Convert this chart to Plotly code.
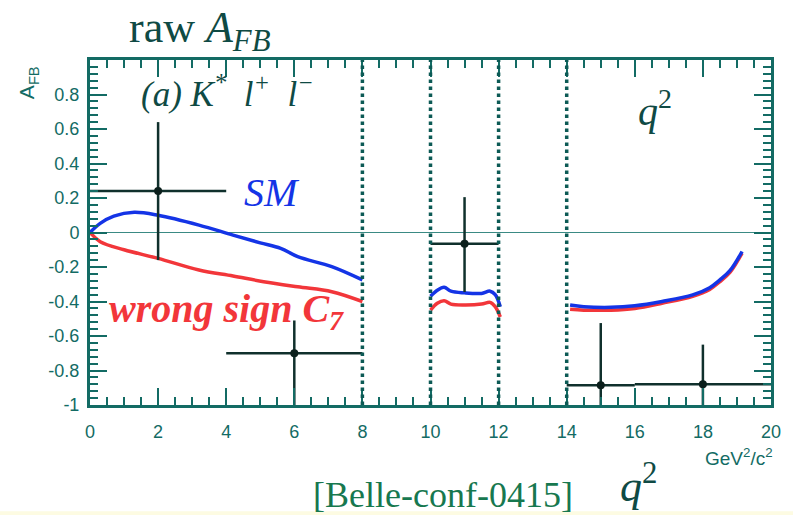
import plotly.graph_objects as go

# Theory curves: forward-backward asymmetry vs q^2 (three allowed q^2 windows)
sm_q2_a = [0.0, 0.3, 0.7, 1.3, 2.0, 3.2, 4.2, 5.0, 5.6, 6.1, 7.1, 8.0]
sm_afb_a = [0.0, 0.053, 0.095, 0.117, 0.10, 0.043, -0.015, -0.06, -0.092, -0.14, -0.198, -0.275]
sm_q2_b = [10.0, 10.2, 10.4, 10.6, 11.0, 11.5, 11.75, 11.9, 12.05]
sm_afb_b = [-0.37, -0.335, -0.318, -0.34, -0.35, -0.353, -0.34, -0.36, -0.43]
sm_q2_c = [14.1, 14.5, 15.3, 16.0, 16.8, 17.7, 18.2, 18.5, 18.8, 19.15]
sm_afb_c = [-0.42, -0.43, -0.434, -0.425, -0.40, -0.362, -0.32, -0.275, -0.22, -0.11]

ws_q2_a = [0.0, 0.3, 1.0, 2.0, 3.2, 4.2, 5.1, 6.1, 7.1, 8.0]
ws_afb_a = [0.0, -0.053, -0.10, -0.15, -0.217, -0.252, -0.285, -0.315, -0.343, -0.40]
ws_q2_b = [10.0, 10.2, 10.4, 10.6, 11.0, 11.5, 11.75, 11.9, 12.05]
ws_afb_b = [-0.45, -0.41, -0.395, -0.415, -0.42, -0.415, -0.405, -0.43, -0.49]
ws_q2_c = [14.1, 14.5, 15.3, 16.0, 16.8, 17.7, 18.2, 18.5, 18.8, 19.15]
ws_afb_c = [-0.445, -0.45, -0.45, -0.44, -0.41, -0.37, -0.33, -0.285, -0.23, -0.12]

# Measured raw A_FB per q^2 bin
bin_center = [2.0, 6.0, 11.0, 15.0, 18.0]
bin_halfwidth = [2.0, 2.0, 1.0, 1.0, 2.0]
afb_raw = [0.24, -0.70, -0.065, -0.885, -0.88]
afb_err_up = [0.40, 0.19, 0.27, 0.36, 0.23]
afb_err_down = [0.40, 0.40, 0.28, 0.40, 0.40]

# Vetoed charmonium windows
veto_edges = [8, 10, 12, 14]

x_ticks = [0, 2, 4, 6, 8, 10, 12, 14, 16, 18, 20]
y_ticks = [-1, -0.8, -0.6, -0.4, -0.2, 0, 0.2, 0.4, 0.6, 0.8]
y_ticktext = ["-1", "-0.8", "-0.6", "-0.4", "-0.2", "0", "0.2", "0.4", "0.6", "0.8"]

AXIS = "#136b64"
TEXT = "#0f4a44"
BLUE = "#1434e6"
RED = "#f2363a"
SERIF = "Liberation Serif, Times New Roman, serif"
SANS = "Liberation Sans, Arial, sans-serif"

fig = go.Figure()

for xs, ys in [(ws_q2_a, ws_afb_a), (ws_q2_b, ws_afb_b), (ws_q2_c, ws_afb_c)]:
    fig.add_trace(go.Scatter(x=xs, y=ys, mode="lines", line=dict(color=RED, width=3.5, shape="spline"),
                             showlegend=False, hoverinfo="skip"))
for xs, ys in [(sm_q2_a, sm_afb_a), (sm_q2_b, sm_afb_b), (sm_q2_c, sm_afb_c)]:
    fig.add_trace(go.Scatter(x=xs, y=ys, mode="lines", line=dict(color=BLUE, width=3.5, shape="spline"),
                             showlegend=False, hoverinfo="skip"))

fig.add_trace(go.Scatter(
    x=bin_center, y=afb_raw, mode="markers",
    marker=dict(color="#0b1f1c", size=8),
    error_x=dict(type="data", array=bin_halfwidth, color="#10302c", thickness=2.5, width=0),
    error_y=dict(type="data", array=afb_err_up, arrayminus=afb_err_down,
                 color="#10302c", thickness=2.5, width=0),
    showlegend=False,
))

for xv in veto_edges:
    fig.add_shape(type="line", x0=xv, x1=xv, y0=-1, y1=1, xref="x", yref="y",
                  line=dict(color="#0c5a55", width=3.5, dash="dot"), layer="above")

# pale strip along the bottom edge
fig.add_shape(type="rect", xref="paper", yref="paper", x0=-0.2, x1=1.1, y0=-0.34, y1=-0.308,
              fillcolor="#fdfbe2", line=dict(width=0), layer="below")

ann = [
    dict(text="raw <i>A</i><sub><i>FB</i></sub>", x=0.055, y=1.085, xref="paper", yref="paper",
         xanchor="left", yanchor="middle", font=dict(family=SERIF, size=44, color=TEXT)),
    dict(text="<i>(a) K<sup>*</sup>  l<sup>+</sup>  l<sup>−</sup></i>", x=1.45, y=0.82, xanchor="left",
         yanchor="middle", font=dict(family=SERIF, size=35, color=TEXT)),
    dict(text="<i>q</i><sup>2</sup>", x=16.6, y=0.72, xanchor="center", yanchor="middle",
         font=dict(family=SERIF, size=40, color=TEXT)),
    dict(text="<i>SM</i>", x=5.35, y=0.23, xanchor="center", yanchor="middle",
         font=dict(family=SERIF, size=40, color=BLUE)),
    dict(text="<b><i>wrong sign C<sub>7</sub></i></b>", x=0.5, y=-0.455, xanchor="left", yanchor="middle",
         font=dict(family=SERIF, size=40, color=RED)),
    dict(text="[Belle-conf-0415]", x=0.519, y=-0.262, xref="paper", yref="paper",
         xanchor="center", yanchor="middle", font=dict(family=SERIF, size=36, color="#17784f")),
    dict(text="<i>q</i><sup>2</sup>", x=0.805, y=-0.228, xref="paper", yref="paper",
         xanchor="center", yanchor="middle", font=dict(family=SERIF, size=44, color=TEXT)),
    dict(text="GeV<sup>2</sup>/c<sup>2</sup>", x=1.006, y=-0.152, xref="paper", yref="paper",
         xanchor="right", yanchor="middle", font=dict(family=SANS, size=19, color=AXIS)),
    dict(text="A<sub>FB</sub>", x=-0.09, y=0.935, xref="paper", yref="paper", textangle=-90,
         xanchor="center", yanchor="middle", font=dict(family=SANS, size=21, color=AXIS)),
]
for a in ann:
    a.setdefault("xref", "x")
    a.setdefault("yref", "y")
    a["showarrow"] = False
    fig.add_annotation(**a)

fig.update_xaxes(
    range=[0, 20], tickvals=x_ticks, ticks="inside", ticklen=17, tickwidth=1.5, tickcolor=AXIS,
    minor=dict(dtick=0.5, ticks="inside", ticklen=8, tickcolor=AXIS, tickwidth=1.5),
    showline=True, linecolor=AXIS, linewidth=3, mirror="allticks", showgrid=False, zeroline=False,
    tickfont=dict(family=SANS, size=18, color=AXIS), ticklabelstandoff=8,
)
fig.update_yaxes(
    range=[-1, 1], tickvals=y_ticks, ticktext=y_ticktext, ticks="inside", ticklen=17, tickwidth=1.5,
    tickcolor=AXIS, minor=dict(dtick=0.04, tick0=0, ticks="inside", ticklen=8, tickcolor=AXIS, tickwidth=1.5),
    showline=True, linecolor=AXIS, linewidth=3, mirror="allticks", showgrid=False,
    zeroline=True, zerolinecolor="#3a8a84", zerolinewidth=1.2,
    tickfont=dict(family=SANS, size=18, color=AXIS), ticklabelstandoff=4,
)

fig.update_layout(
    width=793, height=515, margin=dict(l=90, r=15, t=60, b=110),
    plot_bgcolor="white", paper_bgcolor="white", showlegend=False,
)

fig.write_html("out.html")
